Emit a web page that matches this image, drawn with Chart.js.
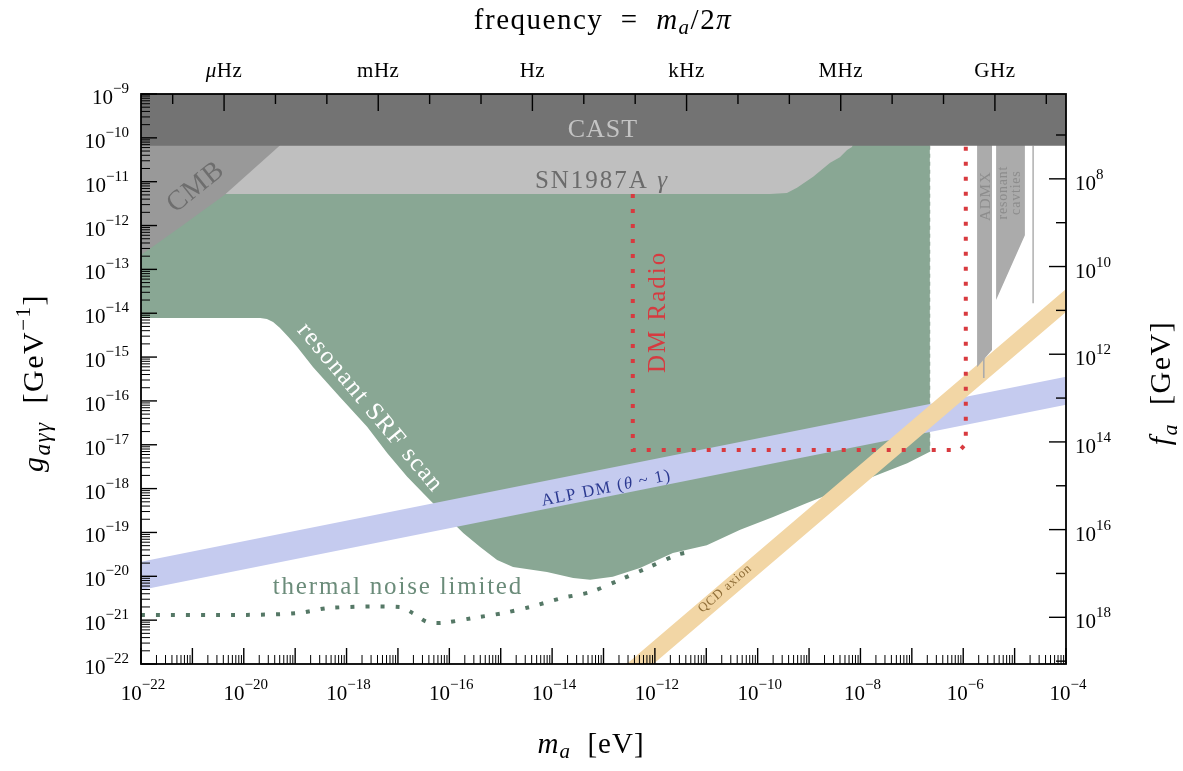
<!DOCTYPE html>
<html>
<head>
<meta charset="utf-8">
<script src="https://cdn.jsdelivr.net/npm/chart.js@4.4.1/dist/chart.umd.min.js"></script>
<style>
  html, body { margin: 0; padding: 0; background: #fff; }
  #wrap { width: 1183px; height: 771px; position: relative; }
</style>
</head>
<body>
<div id="wrap"><canvas id="limits"></canvas></div>
<script>
// every point is [log10(m_a / eV), log10(g_agg / GeV^-1)]
const massRange = [-22, -4];
const couplingRange = [-22, -9];

const castLimit = [[-22, -9], [-4, -9], [-4, -10.18], [-22, -10.18]];
const cmbLimit = [[-22, -9.5], [-18.7, -9.5], [-19.33, -10.21], [-20.37, -11.30], [-21.18, -11.99], [-22, -12.67]];
const sn1987aLimit = [[-22, -9.5], [-7.9, -9.5], [-8.165, -10.21], [-8.26, -10.28], [-8.40, -10.44], [-8.59, -10.57],
  [-8.92, -10.89], [-9.235, -11.14], [-9.43, -11.26], [-9.76, -11.28], [-22, -11.28]];
const srfScanEdge = [[-22, -14.11], [-19.68, -14.11], [-19.55, -14.13], [-19.43, -14.20], [-19.30, -14.33], [-19.14, -14.53],
  [-18.96, -14.77], [-18.65, -15.23], [-18.13, -15.91], [-17.60, -16.59], [-17.21, -17.19], [-16.82, -17.73], [-16.38, -18.26],
  [-15.99, -18.71], [-15.73, -19.01], [-15.40, -19.33], [-15.07, -19.63], [-14.76, -19.79], [-14.10, -19.90],
  [-13.59, -20.04], [-13.26, -20.08], [-12.82, -20.01], [-12.29, -19.81], [-11.65, -19.47], [-10.99, -19.29],
  [-10.34, -18.94], [-9.70, -18.65], [-9.04, -18.33], [-8.40, -18.03], [-7.76, -17.73], [-7.09, -17.42], [-6.65, -17.16]];
const srfScanTop = -9.5;
const thermalNoise = [[-22, -20.88], [-19.94, -20.88], [-18.96, -20.84], [-18.32, -20.72], [-16.96, -20.70],
  [-16.71, -20.84], [-16.43, -21.04], [-16.12, -21.06], [-15.54, -20.95], [-14.96, -20.84], [-14.43, -20.70],
  [-13.79, -20.49], [-13.26, -20.36], [-12.68, -20.08], [-12.15, -19.81], [-11.57, -19.51], [-11.32, -19.44]];
const dmRadio = [[-12.43, -11.28], [-12.43, -17.12], [-6.06, -17.12], [-5.95, -16.98], [-5.95, -10.0]];
const alpUpper = [[-22, -19.67], [-4, -15.45]];
const alpLower = [[-22, -20.31], [-4, -16.09]];
const qcdUpper = [[-12.55, -22], [-4, -13.45]];
const qcdLower = [[-12.03, -22], [-4, -13.97]];
const admx = [[-5.73, -9.5], [-5.44, -9.5], [-5.44, -14.84], [-5.73, -15.23]];
const admxTail = [[-5.60, -14.9], [-5.60, -15.48]];
const cavities = [[-5.36, -9.5], [-4.80, -9.5], [-4.80, -12.22], [-5.36, -13.70]];
const cavityLine = [[-4.64, -10.18], [-4.64, -13.77]];

// tick labels
const massTickExps = [-22, -20, -18, -16, -14, -12, -10, -8, -6, -4];
const couplingTickExps = [-9, -10, -11, -12, -13, -14, -15, -16, -17, -18, -19, -20, -21, -22];
const faTickExps = [8, 10, 12, 14, 16, 18];
const freqUnits = ['\u03bcHz', 'mHz', 'Hz', 'kHz', 'MHz', 'GHz'];
const freqExps = [-6, -3, 0, 3, 6, 9];

const HZ_IN_EV = 2 * Math.PI * 6.582119569e-16;   // m_a for f = 1 Hz
const ALPHA_2PI = (1 / 137.036) / (2 * Math.PI);  // g = alpha / (2 pi f_a)
const FONT = '"Liberation Serif", "DejaVu Serif", serif';

const toPts = arr => arr.map(([lm, lg]) => ({ x: 10 ** lm, y: 10 ** lg }));

function region(label, pts, color, order) {
  return { label, data: toPts(pts), showLine: true, fill: 'shape', backgroundColor: color,
    borderColor: 'rgba(0,0,0,0)', borderWidth: 0, pointRadius: 0, tension: 0, order };
}
function curve(label, pts, color, width, dash, order, tension) {
  return { label, data: toPts(pts), showLine: true, fill: false, borderColor: color, borderWidth: width,
    borderDash: dash, borderCapStyle: 'butt', pointRadius: 0, tension: tension || 0, order };
}

const srfRegion = [[-22, srfScanTop], ...srfScanEdge, [-6.65, srfScanTop]];
const alpBand = [...alpUpper, ...alpLower.slice().reverse()];
const qcdBand = [...qcdUpper, ...qcdLower.slice().reverse()];

// draws a run of text pieces (italic / sub / superscript) on one baseline
function rich(ctx, parts, x, y, align, spacing) {
  ctx.letterSpacing = (spacing || 0) + 'px';
  let w = 0;
  parts.forEach(p => {
    ctx.font = (p.it ? 'italic ' : '') + p.size + 'px ' + FONT;
    p.w = ctx.measureText(p.t).width;
    w += p.w;
  });
  let cx = align === 'center' ? x - w / 2 : align === 'right' ? x - w : x;
  ctx.textAlign = 'left';
  ctx.textBaseline = 'alphabetic';
  parts.forEach(p => {
    ctx.font = (p.it ? 'italic ' : '') + p.size + 'px ' + FONT;
    ctx.fillText(p.t, cx, y + (p.dy || 0));
    cx += p.w;
  });
  ctx.letterSpacing = '0px';
}
function power(exp) {
  const e = String(exp).replace('-', '\u2212');
  return [{ t: '10', size: 21 }, { t: e, size: 15, dy: -11 }];
}
function rotated(ctx, x, y, deg, fn) {
  ctx.save();
  ctx.translate(x, y);
  ctx.rotate(deg * Math.PI / 180);
  fn();
  ctx.restore();
}

const decorations = {
  id: 'decorations',
  afterDatasetsDraw(chart) {
    const { ctx, chartArea: a } = chart;
    const xs = chart.scales.x, ys = chart.scales.y;
    const P = (lm, lg) => [xs.getPixelForValue(10 ** lm), ys.getPixelForValue(10 ** lg)];
    const seg = (x1, y1, x2, y2, w) => { ctx.lineWidth = w; ctx.beginPath(); ctx.moveTo(x1, y1); ctx.lineTo(x2, y2); ctx.stroke(); };

    // region labels
    ctx.save();
    ctx.fillStyle = '#c4c4c4';
    let [px, py] = P(-13.01, -9.775);
    rich(ctx, [{ t: 'CAST', size: 26 }], px, py + 9, 'center', 1);

    ctx.fillStyle = '#6b6b6b';
    [px, py] = P(-13.03, -10.96);
    rich(ctx, [{ t: 'SN1987A ', size: 25 }, { t: '\u03b3', size: 25, it: true }], px, py + 8, 'center', 2);

    [px, py] = P(-20.95, -11.10);
    rotated(ctx, px, py, -39, () => { ctx.fillStyle = '#6e6e6e'; rich(ctx, [{ t: 'CMB', size: 28 }], 0, 9, 'center', 1); });

    [px, py] = P(-11.96, -13.97);
    rotated(ctx, px, py, -90, () => { ctx.fillStyle = '#d63b40'; rich(ctx, [{ t: 'DM Radio', size: 25 }], 0, 8, 'center', 2); });

    [px, py] = P(-17.52, -16.14);
    rotated(ctx, px, py, 50, () => { ctx.fillStyle = '#ffffff'; rich(ctx, [{ t: 'resonant SRF scan', size: 25 }], 0, 8, 'center', 1.6); });

    [px, py] = P(-17.0, -20.22);
    ctx.fillStyle = '#6b8c7a';
    rich(ctx, [{ t: 'thermal noise limited', size: 25 }], px, py + 8, 'center', 1.8);

    [px, py] = P(-12.95, -17.96);
    rotated(ctx, px, py, -11.3, () => {
      ctx.fillStyle = '#2b3990';
      rich(ctx, [{ t: 'ALP DM (', size: 17 }, { t: '\u03b8', size: 17, it: true }, { t: ' ~ 1)', size: 17 }], 0, 6, 'center', 1.3);
    });

    [px, py] = P(-10.64, -20.27);
    rotated(ctx, px, py, -41, () => { ctx.fillStyle = '#8f6e38'; rich(ctx, [{ t: 'QCD axion', size: 13 }], 0, 4, 'center', 0.8); });

    ctx.fillStyle = '#8c8c8c';
    [px, py] = P(-5.58, -11.33);
    rotated(ctx, px, py, -90, () => { rich(ctx, [{ t: 'ADMX', size: 15 }], 0, 5, 'center', 1); });
    [px, py] = P(-5.22, -11.25);
    rotated(ctx, px, py, -90, () => { rich(ctx, [{ t: 'resonant', size: 14 }], 0, 4, 'center', 0.8); });
    [px, py] = P(-4.98, -11.25);
    rotated(ctx, px, py, -90, () => { rich(ctx, [{ t: 'cavties', size: 14 }], 0, 4, 'center', 0.8); });
    ctx.restore();

    // frame and ticks
    ctx.save();
    ctx.strokeStyle = '#000';
    ctx.fillStyle = '#000';
    for (let d = massRange[0]; d <= massRange[1]; d++) {
      for (let k = 1; k <= 9; k++) {
        if (d === massRange[1] && k > 1) break;
        const x = xs.getPixelForValue(k * 10 ** d);
        seg(x, a.bottom, x, a.bottom - (k === 1 ? 16 : 9), k === 1 ? 1.4 : 1);
      }
    }
    for (let d = couplingRange[0]; d <= couplingRange[1]; d++) {
      for (let k = 1; k <= 9; k++) {
        if (d === couplingRange[1] && k > 1) break;
        const y = ys.getPixelForValue(k * 10 ** d);
        seg(a.left, y, a.left + (k === 1 ? 16 : 9), y, k === 1 ? 1.4 : 1);
      }
    }
    // frequency axis on top
    for (let n = -8; n <= 11; n++) {
      const v = HZ_IN_EV * 10 ** n;
      if (v < 10 ** massRange[0] || v > 10 ** massRange[1]) continue;
      const x = xs.getPixelForValue(v);
      seg(x, a.top, x, a.top + (n % 3 === 0 ? 17 : 10), 1.4);
    }
    // f_a axis on the right
    for (let n = 6; n <= 20; n++) {
      const g = ALPHA_2PI / 10 ** n;
      if (g < 10 ** couplingRange[0] || g > 10 ** couplingRange[1]) continue;
      const y = ys.getPixelForValue(g);
      seg(a.right, y, a.right - (n % 2 === 0 ? 17 : 10), y, 1.4);
    }
    ctx.lineWidth = 1.8;
    ctx.strokeRect(a.left, a.top, a.right - a.left, a.bottom - a.top);

    // tick labels
    massTickExps.forEach(e => rich(ctx, power(e), xs.getPixelForValue(10 ** e) + 2, a.bottom + 36, 'center'));
    couplingTickExps.forEach(e => rich(ctx, power(e), a.left - 12, ys.getPixelForValue(10 ** e) + 10, 'right'));
    faTickExps.forEach(e => rich(ctx, power(e), a.right + 9, ys.getPixelForValue(ALPHA_2PI / 10 ** e) + 11, 'left'));
    freqUnits.forEach((u, i) => {
      const x = xs.getPixelForValue(HZ_IN_EV * 10 ** freqExps[i]);
      const parts = u[0] === '\u03bc' ? [{ t: '\u03bc', size: 21, it: true }, { t: 'Hz', size: 21 }] : [{ t: u, size: 21 }];
      rich(ctx, parts, x, a.top - 17, 'center', 0.5);
    });

    // axis titles
    rich(ctx, [{ t: 'm', size: 29, it: true }, { t: 'a', size: 21, it: true, dy: 5 }, { t: '  [eV]', size: 29 }],
      591, 753, 'center', 1);
    rich(ctx, [{ t: 'frequency  =  ', size: 29 }, { t: 'm', size: 29, it: true }, { t: 'a', size: 21, it: true, dy: 5 },
      { t: '/2', size: 29 }, { t: '\u03c0', size: 29, it: true }], 603, 29, 'center', 1.5);
    rotated(ctx, 33, 383, -90, () => {
      rich(ctx, [{ t: 'g', size: 30, it: true }, { t: 'a\u03b3\u03b3', size: 23, it: true, dy: 7 },
        { t: '  [GeV', size: 30 }, { t: '\u22121', size: 21, dy: -13 }, { t: ']', size: 30 }], 0, 10, 'center', 1.5);
    });
    rotated(ctx, 1160, 383, -90, () => {
      rich(ctx, [{ t: 'f', size: 30, it: true }, { t: 'a', size: 22, it: true, dy: 7 }, { t: '  [GeV]', size: 30 }], 0, 10, 'center', 1.5);
    });
    ctx.restore();
  }
};

new Chart(document.getElementById('limits'), {
  type: 'scatter',
  data: {
    datasets: [
      region('CAST', castLimit, '#737373', 1),
      region('CMB', cmbLimit, '#999999', 2),
      region('SN1987A', sn1987aLimit, '#bfbfbf', 3),
      region('ADMX', admx, '#ababab', 4),
      curve('ADMX tail', admxTail, '#ababab', 1.6, [], 4),
      region('resonant cavities', cavities, '#ababab', 4),
      curve('cavity line', cavityLine, '#b4b4b4', 1.6, [], 4),
      curve('DM Radio', dmRadio, '#d83a3f', 4, [4, 11], 5),
      region('QCD axion', qcdBand, '#f2d6a5', 6),
      region('ALP DM', alpBand, '#c5cbef', 7),
      curve('thermal noise limited', thermalNoise, '#557866', 4, [4, 11], 8, 0.3),
      curve('SRF edge', [[-6.65, -10.18], [-6.65, -17.16]], 'rgba(110,140,122,0.6)', 1, [4, 4], 9),
      region('resonant SRF scan', srfRegion, '#89a794', 10),
    ],
  },
  options: {
    responsive: true,
    maintainAspectRatio: false,
    animation: false,
    layout: { padding: { left: 141, top: 94, right: 117, bottom: 107 } },
    scales: {
      x: { type: 'logarithmic', min: 10 ** massRange[0], max: 10 ** massRange[1], bounds: 'data', display: false },
      y: { type: 'logarithmic', min: 10 ** couplingRange[0], max: 10 ** couplingRange[1], bounds: 'data', display: false },
    },
    plugins: {
      legend: { display: false },
      tooltip: { enabled: false },
    },
  },
  plugins: [decorations],
});
</script>
</body>
</html>
